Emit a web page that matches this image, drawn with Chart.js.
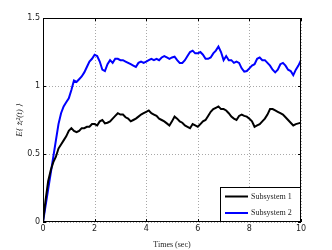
<!DOCTYPE html>
<html><head><meta charset="utf-8">
<script src="https://cdn.jsdelivr.net/npm/chart.js@4"></script>
<style>html,body{margin:0;padding:0;background:#fff}#w{width:332px;height:250px}</style>
</head><body><div id="w"><canvas id="c" width="332" height="250"></canvas></div>
<script>
const times = [0,0.1,0.2,0.3,0.4,0.5,0.6,0.7,0.8,0.9,1,1.1,1.2,1.3,1.4,1.5,1.6,1.7,1.8,1.9,2,2.1,2.2,2.3,2.4,2.5,2.6,2.7,2.8,2.9,3,3.1,3.2,3.3,3.4,3.5,3.6,3.7,3.8,3.9,4,4.1,4.2,4.3,4.4,4.5,4.6,4.7,4.8,4.9,5,5.1,5.2,5.3,5.4,5.5,5.6,5.7,5.8,5.9,6,6.1,6.2,6.3,6.4,6.5,6.6,6.7,6.8,6.9,7,7.1,7.2,7.3,7.4,7.5,7.6,7.7,7.8,7.9,8,8.1,8.2,8.3,8.4,8.5,8.6,8.7,8.8,8.9,9,9.1,9.2,9.3,9.4,9.5,9.6,9.7,9.8,9.9,10];
const subsystem1 = [0,0.16,0.30,0.38,0.44,0.48,0.54,0.57,0.60,0.63,0.67,0.69,0.67,0.66,0.67,0.69,0.69,0.70,0.70,0.72,0.72,0.71,0.74,0.75,0.725,0.73,0.74,0.76,0.78,0.80,0.79,0.79,0.77,0.76,0.74,0.75,0.76,0.775,0.79,0.80,0.81,0.82,0.80,0.79,0.78,0.76,0.75,0.74,0.725,0.71,0.74,0.775,0.76,0.74,0.73,0.71,0.70,0.69,0.72,0.71,0.70,0.72,0.74,0.75,0.78,0.81,0.83,0.84,0.85,0.83,0.83,0.82,0.80,0.775,0.76,0.75,0.78,0.79,0.78,0.775,0.76,0.74,0.70,0.71,0.72,0.74,0.76,0.79,0.83,0.83,0.82,0.81,0.80,0.79,0.77,0.75,0.73,0.71,0.72,0.725,0.73];
const subsystem2 = [0,0.12,0.24,0.36,0.48,0.60,0.72,0.80,0.85,0.88,0.91,0.97,1.04,1.03,1.05,1.07,1.10,1.14,1.18,1.20,1.23,1.22,1.18,1.12,1.11,1.16,1.19,1.17,1.20,1.20,1.19,1.19,1.18,1.17,1.16,1.15,1.14,1.17,1.18,1.17,1.18,1.19,1.20,1.19,1.20,1.19,1.21,1.22,1.21,1.20,1.21,1.215,1.19,1.17,1.17,1.19,1.22,1.25,1.26,1.24,1.24,1.25,1.23,1.20,1.20,1.21,1.24,1.26,1.29,1.25,1.19,1.22,1.19,1.19,1.17,1.18,1.17,1.13,1.105,1.11,1.13,1.15,1.16,1.20,1.21,1.19,1.19,1.17,1.15,1.12,1.10,1.12,1.16,1.17,1.15,1.12,1.11,1.08,1.12,1.15,1.19];
const xTicks = [0,2,4,6,8,10];
const yTicks = [0,0.5,1,1.5];
const seriesNames = ['Subsystem 1','Subsystem 2'];
const seriesColors = ['#000000','#0000ff'];
const yTitle = 'E{ z̃ᵢ²(t) }';

const gridFrameLegend = {
  id:'gridFrameLegend',
  beforeDatasetsDraw(chart){
    const {ctx, chartArea:a, scales} = chart;
    ctx.save();
    ctx.strokeStyle='#a8a8a8'; ctx.lineWidth=1; ctx.setLineDash([1,2]);
    xTicks.forEach(v=>{ const x=Math.round(scales.x.getPixelForValue(v))+0.5;
      ctx.beginPath(); ctx.moveTo(x,a.top); ctx.lineTo(x,a.bottom); ctx.stroke(); });
    yTicks.forEach(v=>{ const y=Math.round(scales.y.getPixelForValue(v))+0.5;
      ctx.beginPath(); ctx.moveTo(a.left,y); ctx.lineTo(a.right,y); ctx.stroke(); });
    ctx.setLineDash([]);
    ctx.strokeStyle='#000';
    xTicks.forEach(v=>{ const x=Math.round(scales.x.getPixelForValue(v))+0.5;
      ctx.beginPath(); ctx.moveTo(x,a.bottom); ctx.lineTo(x,a.bottom-3); ctx.moveTo(x,a.top); ctx.lineTo(x,a.top+3); ctx.stroke(); });
    yTicks.forEach(v=>{ const y=Math.round(scales.y.getPixelForValue(v))+0.5;
      ctx.beginPath(); ctx.moveTo(a.left,y); ctx.lineTo(a.left+3,y); ctx.moveTo(a.right,y); ctx.lineTo(a.right-3,y); ctx.stroke(); });
    // y-axis title
    ctx.translate(20,(a.top+a.bottom)/2);
    ctx.rotate(-Math.PI/2);
    ctx.fillStyle='#222'; ctx.font='italic 9px "Liberation Serif", "DejaVu Serif", serif';
    ctx.textAlign='center'; ctx.textBaseline='middle';
    ctx.fillText(yTitle,0,0);
    ctx.restore();
  },
  afterDatasetsDraw(chart){
    const {ctx, chartArea:a} = chart;
    ctx.save();
    ctx.strokeStyle='#000'; ctx.lineWidth=1;
    ctx.strokeRect(a.left+0.5, a.top+0.5, a.right-a.left-1, a.bottom-a.top-1);
    const bw=81, bh=35;
    const bx=a.right-bw, by=a.bottom-bh;
    ctx.fillStyle='#fff'; ctx.fillRect(bx,by,bw,bh);
    ctx.strokeRect(bx+0.5,by+0.5,bw-1,bh-1);
    ctx.font='8px "Liberation Serif", "DejaVu Serif", serif';
    ctx.textBaseline='middle'; ctx.textAlign='left';
    chart.data.datasets.forEach((ds,i)=>{
      const y = by + 9.5 + i*16.5;
      ctx.strokeStyle=ds.borderColor; ctx.lineWidth=2;
      ctx.beginPath(); ctx.moveTo(bx+5,y); ctx.lineTo(bx+28,y); ctx.stroke();
      ctx.fillStyle='#222'; ctx.fillText(ds.label, bx+31, y);
    });
    ctx.restore();
  }
};

new Chart(document.getElementById('c'),{
  type:'line',
  data:{
    datasets:[
      {label:seriesNames[0], data:times.map((t,i)=>({x:t,y:subsystem1[i]})), borderColor:seriesColors[0], borderWidth:2, pointRadius:0, tension:0, fill:false},
      {label:seriesNames[1], data:times.map((t,i)=>({x:t,y:subsystem2[i]})), borderColor:seriesColors[1], borderWidth:2, pointRadius:0, tension:0, fill:false}
    ]
  },
  options:{
    responsive:false, animation:false, devicePixelRatio:1,
    layout:{padding:{left:0,right:31,top:18,bottom:0}},
    plugins:{legend:{display:false}, tooltip:{enabled:false}},
    scales:{
      x:{type:'linear', min:0, max:10,
        afterBuildTicks(s){ s.ticks = xTicks.map(v=>({value:v})); },
        afterFit(s){ s.height=28; },
        grid:{display:false, drawTicks:false},
        border:{display:false},
        ticks:{color:'#222', font:{family:'"DejaVu Sans", sans-serif', size:8}, padding:2, maxRotation:0},
        title:{display:true, text:'Times (sec)', color:'#222', font:{family:'"Liberation Serif", serif', size:8}, padding:{top:3,bottom:0}}
      },
      y:{min:0, max:1.5,
        afterBuildTicks(s){ s.ticks = yTicks.map(v=>({value:v})); },
        afterFit(s){ s.width=43; },
        grid:{display:false, drawTicks:false},
        border:{display:false},
        ticks:{color:'#222', font:{family:'"DejaVu Sans", sans-serif', size:8}, padding:3, callback:v=>String(v)}
      }
    }
  },
  plugins:[gridFrameLegend]
});
</script></body></html>
